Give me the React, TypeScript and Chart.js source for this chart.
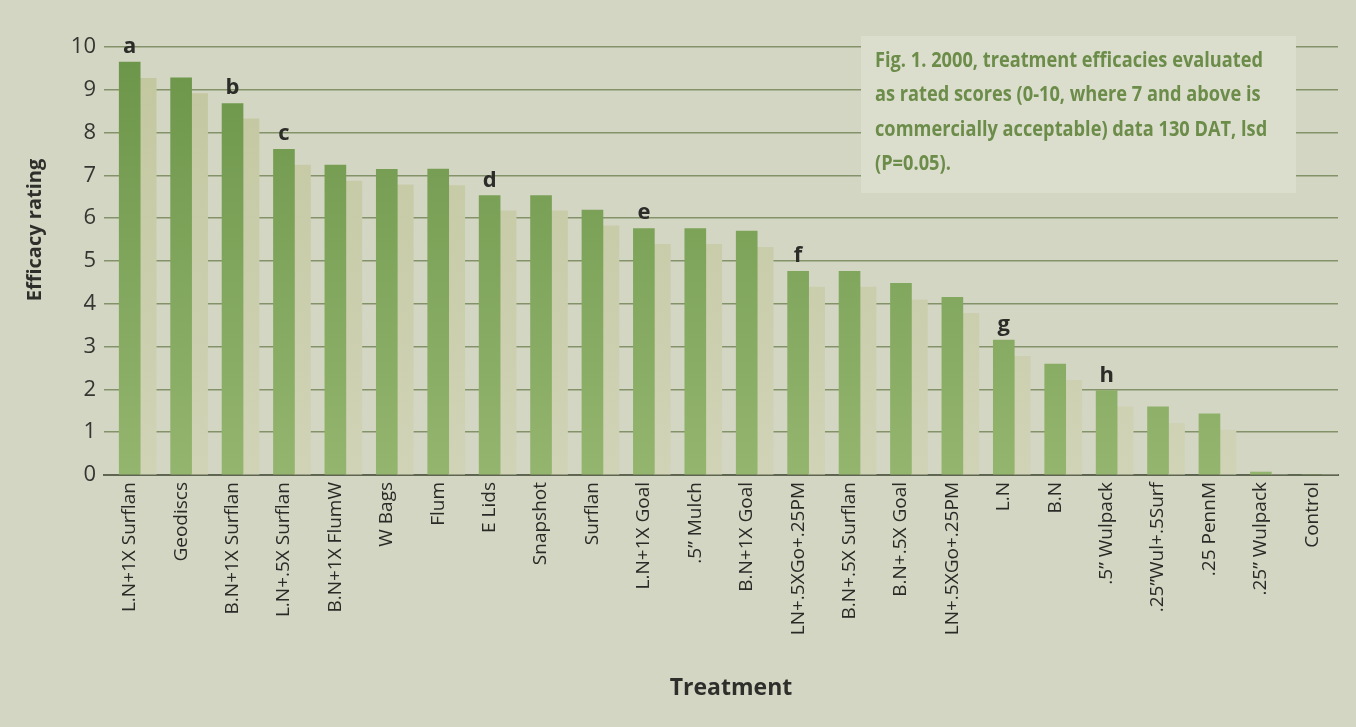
import React, { useEffect, useRef } from "react";
import { Chart, registerables } from "chart.js";

Chart.register(...registerables);

const categories = [
  "L.N+1X Surflan", "Geodiscs", "B.N+1X Surflan", "L.N+.5X Surflan", "B.N+1X FlumW",
  "W Bags", "Flum", "E Lids", "Snapshot", "Surflan", "L.N+1X Goal", ".5\u201D Mulch",
  "B.N+1X Goal", "LN+.5XGo+.25PM", "B.N+.5X Surflan", "B.N+.5X Goal", "LN+.5XGo+.25PM",
  "L.N", "B.N", ".5\u201D Wulpack", ".25\u201DWul+.5Surf", ".25 PennM", ".25\u201D Wulpack", "Control",
];

const mainRatings = [
  9.65, 9.28, 8.68, 7.61, 7.24, 7.14, 7.15, 6.53, 6.53, 6.19, 5.76, 5.76,
  5.7, 4.76, 4.76, 4.48, 4.15, 3.15, 2.59, 1.97, 1.59, 1.43, 0.07, 0,
];

const shadowRatings = [
  9.27, 8.91, 8.32, 7.24, 6.87, 6.78, 6.76, 6.17, 6.17, 5.82, 5.39, 5.39,
  5.32, 4.39, 4.39, 4.09, 3.78, 2.77, 2.21, 1.59, 1.21, 1.05, 0, 0,
];

const groupLetters = [
  "a", "", "b", "c", "", "", "", "d", "", "", "e", "", "", "f", "", "", "", "g", "", "h", "", "", "", "",
];

const yMin = 0;
const yMax = 10;
const yStep = 1;

const xTitle = "Treatment";
const yTitle = "Efficacy rating";

const captionLines = [
  "Fig. 1. 2000, treatment efficacies evaluated",
  "as rated scores (0-10, where 7 and above is",
  "commercially acceptable) data 130 DAT, lsd",
  "(P=0.05).",
];

const W = 1356;
const H = 727;

const overlayPlugin = {
  id: "overlay",
  afterDatasetsDraw(chart: any) {
    const ctx = chart.ctx;
    const meta = chart.getDatasetMeta(1);
    ctx.save();
    ctx.font = 'bold 22px "Open Sans"';
    ctx.fillStyle = "#2c2d29";
    ctx.textAlign = "center";
    ctx.textBaseline = "alphabetic";
    groupLetters.forEach((l, i) => {
      if (!l) return;
      const bar = meta.data[i];
      if (!bar) return;
      ctx.fillText(l, bar.x, bar.y - 9);
    });
    ctx.restore();
  },
  afterDraw(chart: any) {
    const ctx = chart.ctx;
    const area = chart.chartArea;
    ctx.save();
    ctx.fillStyle = "#2e2f2b";
    ctx.font = 'bold 23px "Open Sans"';
    ctx.textAlign = "center";
    ctx.textBaseline = "middle";
    ctx.fillText(xTitle, 731, 688);
    ctx.translate(35, 230);
    ctx.rotate(-Math.PI / 2);
    ctx.font = 'bold 20px "Open Sans"';
    ctx.fillText(yTitle, 0, 0);
    ctx.restore();

    const bx = area.left + 757;
    const by = 36;
    const bw = 435;
    const bh = 157;
    ctx.save();
    ctx.fillStyle = "#dcdecd";
    ctx.fillRect(bx, by, bw, bh);
    ctx.font = 'bold 21px "Open Sans"';
    ctx.fillStyle = "#6c8c4a";
    ctx.textAlign = "left";
    ctx.textBaseline = "alphabetic";
    const target = 388;
    const measured = ctx.measureText(captionLines[0]).width;
    const sx = target / measured;
    captionLines.forEach((line, k) => {
      ctx.save();
      ctx.translate(bx + 14, 66.5 + 34.5 * k);
      ctx.scale(sx, 1);
      ctx.fillText(line, 0, 0);
      ctx.restore();
    });
    ctx.restore();
  },
};

function mainFill(c: any) {
  const chart = c.chart;
  const area = chart.chartArea;
  if (!area) return "#7fa45a";
  const g = chart.ctx.createLinearGradient(0, area.top, 0, area.bottom);
  g.addColorStop(0, "#6b9549");
  g.addColorStop(1, "#94b56e");
  return g;
}

function shadowFill(c: any) {
  const chart = c.chart;
  const area = chart.chartArea;
  if (!area) return "#c8cba8";
  const g = chart.ctx.createLinearGradient(0, area.top, 0, area.bottom);
  g.addColorStop(0, "#c3c79f");
  g.addColorStop(1, "#d0d3b6");
  return g;
}

export default function App() {
  const ref = useRef<HTMLCanvasElement | null>(null);

  useEffect(() => {
    document.body.style.margin = "0";
    const canvas = ref.current;
    if (!canvas) return;
    const chart = new Chart(canvas, {
      type: "bar",
      data: {
        labels: categories,
        datasets: [
          {
            label: "spacer",
            data: categories.map(() => null),
            barThickness: 21,
            backgroundColor: "rgba(0,0,0,0)",
          },
          {
            label: "Efficacy rating",
            data: mainRatings,
            backgroundColor: mainFill,
            borderWidth: 0,
            barThickness: 21,
          },
          {
            label: "Shadow",
            data: shadowRatings,
            backgroundColor: shadowFill,
            borderWidth: 0,
            barThickness: 18.5,
            maxBarThickness: 16,
          },
        ],
      } as any,
      options: {
        responsive: false,
        animation: false,
        devicePixelRatio: 1,
        layout: { padding: { top: 47, right: 18, bottom: 0, left: 0 } },
        plugins: {
          legend: { display: false },
          tooltip: { enabled: false },
          title: { display: false },
        },
        scales: {
          x: {
            afterFit: (axis: any) => {
              axis.height = 252;
            },
            grid: { display: false, drawTicks: false },
            border: { display: true, color: "#5e6550", width: 2 },
            ticks: {
              autoSkip: false,
              minRotation: 90,
              maxRotation: 90,
              padding: 7,
              color: "#2a2b27",
              font: { family: '"Open Sans"', size: 19 },
            },
          },
          y: {
            min: yMin,
            max: yMax,
            afterFit: (axis: any) => {
              axis.width = 104;
            },
            border: { display: false },
            grid: {
              drawTicks: false,
              color: "#84926a",
              lineWidth: 1.6,
            },
            ticks: {
              stepSize: yStep,
              padding: 8,
              color: "#353632",
              font: { family: '"Open Sans"', size: 22 },
            },
          },
        },
      } as any,
      plugins: [overlayPlugin],
    });
    return () => chart.destroy();
  }, []);

  return (
    <div
      style={{
        position: "fixed",
        left: 0,
        top: 0,
        width: W,
        height: H,
        background: "#d4d6c4",
      }}
    >
      <canvas ref={ref} width={W} height={H} style={{ display: "block" }} />
    </div>
  );
}
